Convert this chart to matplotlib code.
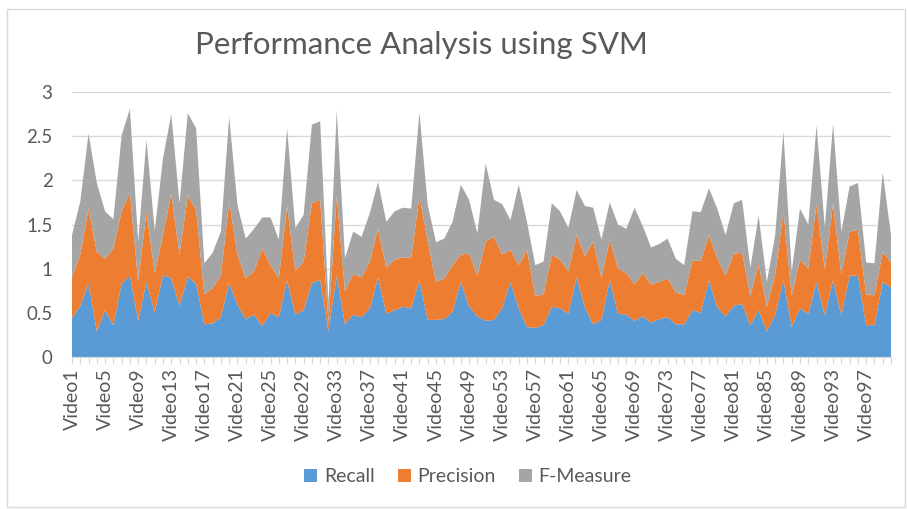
import matplotlib
matplotlib.use("Agg")
import matplotlib.pyplot as plt
import numpy as np
from matplotlib.patches import Rectangle

videos = [f"Video{i}" for i in range(1, 101)]

recall = [0.44, 0.58, 0.83, 0.29, 0.53, 0.36, 0.83, 0.92, 0.41, 0.85,
          0.50, 0.93, 0.89, 0.58, 0.91, 0.83, 0.37, 0.38, 0.45, 0.84,
          0.59, 0.43, 0.48, 0.35, 0.50, 0.45, 0.87, 0.48, 0.53, 0.84,
          0.87, 0.29, 0.92, 0.37, 0.48, 0.45, 0.55, 0.90, 0.49, 0.53,
          0.57, 0.55, 0.87, 0.42, 0.42, 0.43, 0.51, 0.85, 0.57, 0.46,
          0.41, 0.42, 0.55, 0.85, 0.55, 0.34, 0.33, 0.36, 0.57, 0.55,
          0.49, 0.90, 0.56, 0.37, 0.42, 0.87, 0.49, 0.48, 0.41, 0.46,
          0.39, 0.43, 0.45, 0.37, 0.37, 0.53, 0.50, 0.87, 0.56, 0.46,
          0.58, 0.60, 0.36, 0.53, 0.29, 0.48, 0.87, 0.34, 0.55, 0.49,
          0.85, 0.47, 0.87, 0.47, 0.92, 0.92, 0.36, 0.36, 0.85, 0.79]

precision = [0.46, 0.58, 0.85, 0.90, 0.58, 0.87, 0.82, 0.94, 0.44, 0.80,
             0.45, 0.46, 0.96, 0.58, 0.92, 0.83, 0.34, 0.40, 0.47, 0.92,
             0.57, 0.46, 0.49, 0.88, 0.54, 0.44, 0.84, 0.49, 0.55, 0.90,
             0.91, 0.10, 0.91, 0.37, 0.46, 0.45, 0.53, 0.55, 0.52, 0.57,
             0.56, 0.57, 0.95, 0.89, 0.43, 0.46, 0.53, 0.31, 0.60, 0.46,
             0.90, 0.94, 0.61, 0.36, 0.49, 0.87, 0.36, 0.35, 0.59, 0.55,
             0.48, 0.48, 0.58, 0.94, 0.47, 0.46, 0.51, 0.47, 0.41, 0.49,
             0.43, 0.42, 0.44, 0.36, 0.33, 0.56, 0.59, 0.51, 0.56, 0.46,
             0.59, 0.58, 0.33, 0.52, 0.28, 0.45, 0.78, 0.35, 0.55, 0.51,
             0.88, 0.52, 0.87, 0.46, 0.50, 0.52, 0.35, 0.34, 0.34, 0.28]

fmeasure = [0.48, 0.60, 0.85, 0.78, 0.54, 0.33, 0.86, 0.95, 0.46, 0.81,
            0.48, 0.86, 0.90, 0.58, 0.93, 0.93, 0.35, 0.40, 0.50, 0.96,
            0.56, 0.45, 0.48, 0.35, 0.54, 0.44, 0.88, 0.49, 0.53, 0.89,
            0.89, 0.22, 0.96, 0.38, 0.48, 0.46, 0.55, 0.53, 0.52, 0.55,
            0.56, 0.56, 0.95, 0.41, 0.45, 0.45, 0.49, 0.79, 0.61, 0.48,
            0.88, 0.42, 0.57, 0.34, 0.91, 0.32, 0.35, 0.37, 0.58, 0.55,
            0.49, 0.51, 0.57, 0.38, 0.44, 0.42, 0.50, 0.50, 0.87, 0.53,
            0.42, 0.43, 0.45, 0.38, 0.34, 0.56, 0.55, 0.53, 0.56, 0.46,
            0.57, 0.60, 0.32, 0.55, 0.28, 0.45, 0.90, 0.28, 0.58, 0.50,
            0.89, 0.48, 0.90, 0.49, 0.51, 0.53, 0.36, 0.36, 0.90, 0.31]

series_names = ["Recall", "Precision", "F-Measure"]
colors = ["#5B9BD5", "#ED7D31", "#A5A5A5"]
yticks = [0, 0.5, 1, 1.5, 2, 2.5, 3]
ytick_labels = ["0", "0.5", "1", "1.5", "2", "2.5", "3"]

plt.rcParams['font.family'] = ['Lato', 'DejaVu Sans']
W, H = 907, 509
fig = plt.figure(figsize=(W / 100, H / 100), dpi=100)

# chart border
fig.patches.append(Rectangle((7 / W, 2 / H), (W - 9) / W, (H - 11) / H,
                             transform=fig.transFigure, fill=False,
                             edgecolor="#d9d9d9", linewidth=1.0))

ax = fig.add_axes([72 / W, 1 - 357 / H, (891 - 72) / W, (357 - 92) / H])
x = np.arange(len(videos))
ax.stackplot(x, recall, precision, fmeasure, colors=colors,
             labels=series_names, linewidth=0)

ax.set_xlim(0, len(videos) - 1)
ax.set_ylim(0, 3)
ax.set_yticks(yticks)
ax.set_yticklabels(ytick_labels)
ax.grid(axis="y", color="#d9d9d9", linewidth=1.0)
ax.set_axisbelow(True)
for s in ["top", "right", "left"]:
    ax.spines[s].set_visible(False)
ax.spines["bottom"].set_color("#d9d9d9")
ax.tick_params(axis="y", length=0, labelsize=13.5, labelcolor="#595959", pad=14)

ax.set_xticks(x)
ax.set_xticklabels([v if i % 4 == 0 else "" for i, v in enumerate(videos)],
                   rotation=90, fontsize=14, color="#595959")
ax.tick_params(axis="x", length=5, color="#d9d9d9", pad=3)

fig.text(421 / W, 1 - 45 / H, "Performance Analysis using SVM",
         ha="center", va="center", fontsize=22.5, color="#595959")

leg = fig.legend(*ax.get_legend_handles_labels(), loc="center",
                 bbox_to_anchor=(468 / W, 1 - 477 / H), ncol=3, frameon=False,
                 fontsize=14, handlelength=0.65, handleheight=0.65,
                 handletextpad=0.35, columnspacing=1.2)
for t in leg.get_texts():
    t.set_color("#595959")

fig.savefig("out.png", dpi=100)
